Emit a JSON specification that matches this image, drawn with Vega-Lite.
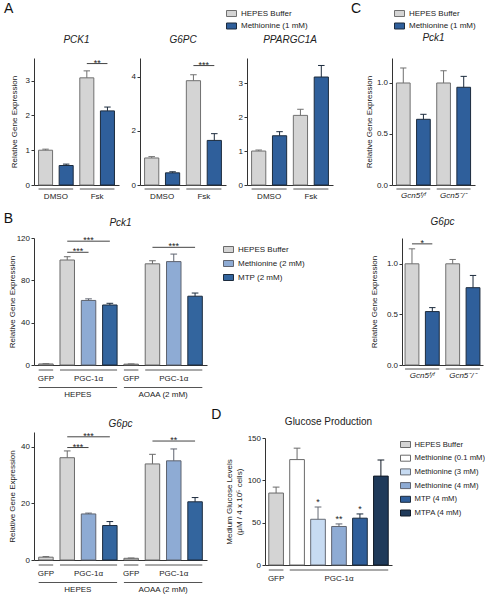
{
 "$schema": "https://vega.github.io/schema/vega-lite/v6.json",
 "padding": {"left": 3, "top": 2, "right": 0, "bottom": 0},
 "config": {
  "font": "Liberation Sans",
  "view": {"stroke": null},
  "axis": {"grid": false, "labelFontSize": 8, "titleFontSize": 8, "titleFontWeight": "normal", "labelColor": "#222", "titleColor": "#222", "domainColor": "#333", "tickColor": "#333", "tickSize": 3, "labelPadding": 1.5, "minExtent": 0},
  "title": {"fontSize": 10, "fontWeight": "normal", "fontStyle": "italic", "offset": 9, "color": "#222"},
  "legend": {"labelFontSize": 8, "labelColor": "#222", "symbolType": "M-1,-0.6H1V0.6H-1Z", "symbolSize": 100, "symbolStrokeWidth": 1, "labelOffset": 4, "padding": 0},
  "text": {"fontSize": 8, "color": "#222"}
 },
 "datasets": {
  "a1": [
   {"bar": "1", "trt": "HEPES Buffer", "value": 1.0, "hi": 1.03},
   {"bar": "2", "trt": "Methionine (1 mM)", "value": 0.56, "hi": 0.6},
   {"bar": "3", "trt": "HEPES Buffer", "value": 3.08, "hi": 3.28},
   {"bar": "4", "trt": "Methionine (1 mM)", "value": 2.13, "hi": 2.24}
  ],
  "a2": [
   {"bar": "1", "trt": "HEPES Buffer", "value": 1.0, "hi": 1.05},
   {"bar": "2", "trt": "Methionine (1 mM)", "value": 0.45, "hi": 0.49},
   {"bar": "3", "trt": "HEPES Buffer", "value": 3.86, "hi": 4.08},
   {"bar": "4", "trt": "Methionine (1 mM)", "value": 1.65, "hi": 1.9}
  ],
  "a3": [
   {"bar": "1", "trt": "HEPES Buffer", "value": 1.0, "hi": 1.03},
   {"bar": "2", "trt": "Methionine (1 mM)", "value": 1.45, "hi": 1.57},
   {"bar": "3", "trt": "HEPES Buffer", "value": 2.05, "hi": 2.23},
   {"bar": "4", "trt": "Methionine (1 mM)", "value": 3.18, "hi": 3.52}
  ],
  "a_groups": [
   {"label": "DMSO", "first": "1", "last": "2", "anchor": "1"},
   {"label": "Fsk", "first": "3", "last": "4", "anchor": "3"}
  ],
  "a1_sig": [{"a": "3", "b": "4", "anchor": "3", "y": 3.49, "label": "**"}],
  "a2_sig": [{"a": "3", "b": "4", "anchor": "3", "y": 4.42, "label": "***"}],
  "b1": [
   {"bar": "1", "trt": "HEPES Buffer", "value": 1.0, "hi": 1.2},
   {"bar": "2", "trt": "HEPES Buffer", "value": 99.2, "hi": 102.3},
   {"bar": "3", "trt": "Methionine (2 mM)", "value": 61.0, "hi": 62.5},
   {"bar": "4", "trt": "MTP (2 mM)", "value": 56.7, "hi": 58.3},
   {"bar": "5", "trt": "HEPES Buffer", "value": 0.8, "hi": 1.0},
   {"bar": "6", "trt": "HEPES Buffer", "value": 95.6, "hi": 98.5},
   {"bar": "7", "trt": "Methionine (2 mM)", "value": 97.7, "hi": 104.8},
   {"bar": "8", "trt": "MTP (2 mM)", "value": 65.0, "hi": 68.0}
  ],
  "b2": [
   {"bar": "1", "trt": "HEPES Buffer", "value": 1.0, "hi": 1.2},
   {"bar": "2", "trt": "HEPES Buffer", "value": 36.2, "hi": 38.6},
   {"bar": "3", "trt": "Methionine (2 mM)", "value": 16.3, "hi": 16.6},
   {"bar": "4", "trt": "MTP (2 mM)", "value": 12.2, "hi": 13.6},
   {"bar": "5", "trt": "HEPES Buffer", "value": 0.6, "hi": 0.7},
   {"bar": "6", "trt": "HEPES Buffer", "value": 34.0, "hi": 37.4},
   {"bar": "7", "trt": "Methionine (2 mM)", "value": 35.1, "hi": 39.3},
   {"bar": "8", "trt": "MTP (2 mM)", "value": 20.6, "hi": 22.1}
  ],
  "b_inner": [
   {"label": "GFP", "first": "1", "last": "1", "anchor": "1"},
   {"label": "PGC-1α", "first": "2", "last": "4", "anchor": "3"},
   {"label": "GFP", "first": "5", "last": "5", "anchor": "5"},
   {"label": "PGC-1α", "first": "6", "last": "8", "anchor": "7"}
  ],
  "b_outer": [
   {"label": "HEPES", "first": "1", "last": "4", "anchor": "2"},
   {"label": "AOAA (2 mM)", "first": "5", "last": "8", "anchor": "6"}
  ],
  "b1_sig": [
   {"a": "2", "b": "3", "anchor": "2", "pos": "between", "y": 106.5, "label": "***"},
   {"a": "2", "b": "4", "anchor": "3", "pos": "center", "y": 117, "label": "***"},
   {"a": "6", "b": "8", "anchor": "7", "pos": "center", "y": 111.2, "label": "***"}
  ],
  "b2_sig": [
   {"a": "2", "b": "3", "anchor": "2", "pos": "between", "y": 39.8, "label": "***"},
   {"a": "2", "b": "4", "anchor": "3", "pos": "center", "y": 43.6, "label": "***"},
   {"a": "6", "b": "8", "anchor": "7", "pos": "center", "y": 42.1, "label": "**"}
  ],
  "c1": [
   {"bar": "1", "trt": "HEPES Buffer", "value": 1.0, "hi": 1.147},
   {"bar": "2", "trt": "Methionine (1 mM)", "value": 0.644, "hi": 0.693},
   {"bar": "3", "trt": "HEPES Buffer", "value": 1.0, "hi": 1.12},
   {"bar": "4", "trt": "Methionine (1 mM)", "value": 0.958, "hi": 1.065}
  ],
  "c2": [
   {"bar": "1", "trt": "HEPES Buffer", "value": 1.0, "hi": 1.148},
   {"bar": "2", "trt": "Methionine (1 mM)", "value": 0.528, "hi": 0.567},
   {"bar": "3", "trt": "HEPES Buffer", "value": 1.0, "hi": 1.043},
   {"bar": "4", "trt": "Methionine (1 mM)", "value": 0.764, "hi": 0.885}
  ],
  "c_groups": [
   {"label": "Gcn5ᶠ/ᶠ", "first": "1", "last": "2", "anchor": "1"},
   {"label": "Gcn5⁻/⁻", "first": "3", "last": "4", "anchor": "3"}
  ],
  "c2_sig": [{"a": "1", "b": "2", "anchor": "1", "y": 1.197, "label": "*"}],
  "d": [
   {"bar": "1", "trt": "HEPES Buffer", "value": 85, "hi": 92, "sig": ""},
   {"bar": "2", "trt": "Methionine (0.1 mM)", "value": 124.5, "hi": 138, "sig": ""},
   {"bar": "3", "trt": "Methionine (3 mM)", "value": 54, "hi": 68.5, "sig": "*"},
   {"bar": "4", "trt": "Methionine (4 mM)", "value": 45.5, "hi": 48.5, "sig": "**"},
   {"bar": "5", "trt": "MTP (4 mM)", "value": 55.3, "hi": 60.3, "sig": "*"},
   {"bar": "6", "trt": "MTPA (4 mM)", "value": 105, "hi": 124, "sig": ""}
  ],
  "d_groups": [
   {"label": "GFP", "first": "1", "last": "1", "anchor": "1"},
   {"label": "PGC-1α", "first": "2", "last": "6", "anchor": "4"}
  ]
 },
 "resolve": {"scale": {"x": "independent", "y": "independent", "fill": "independent", "stroke": "independent"}, "legend": {"fill": "independent", "stroke": "independent"}},
 "spacing": 11,
 "vconcat": [
  {
   "spacing": 17,
   "resolve": {"scale": {"x": "independent", "y": "independent", "fill": "independent", "stroke": "independent"}, "legend": {"fill": "independent", "stroke": "independent"}},
   "hconcat": [
    {
     "title": {"text": "A", "anchor": "start", "fontSize": 14, "fontStyle": "normal", "offset": -8, "dx": -6, "dy": 0, "color": "#111"},
     "spacing": 12,
     "resolve": {"scale": {"x": "independent", "y": "independent", "fill": "shared", "stroke": "shared"}, "legend": {"fill": "shared", "stroke": "shared"}},
     "hconcat": [
      {
       "width": 85, "height": 127,
       "title": {"text": "PCK1", "offset": 13},
       "layer": [
        {"data": {"name": "a1"}, "mark": {"type": "bar", "strokeWidth": 1},
         "encoding": {
          "x": {"field": "bar", "type": "nominal", "title": null, "scale": {"domain": ["1", "2", "3", "4"], "paddingInner": 0.32, "paddingOuter": 0.22}, "axis": {"labels": false, "ticks": false}},
          "y": {"field": "value", "type": "quantitative", "scale": {"domain": [0, 3.65], "nice": false}, "axis": {"values": [0, 1, 2, 3], "title": "Relative Gene Expression", "titlePadding": 7}},
          "fill": {"field": "trt", "type": "nominal", "scale": {"domain": ["HEPES Buffer", "Methionine (1 mM)"], "range": ["#d4d4d4", "#2f5f9b"]}, "legend": {"title": null, "orient": "none", "legendX": 192, "legendY": -50, "rowPadding": 1.5}},
          "stroke": {"field": "trt", "type": "nominal", "scale": {"domain": ["HEPES Buffer", "Methionine (1 mM)"], "range": ["#707070", "#1c2b3d"]}, "legend": {"title": null, "orient": "none", "legendX": 192, "legendY": -50, "rowPadding": 1.5}}
         }},
        {"data": {"name": "a1"}, "mark": {"type": "rule", "strokeWidth": 1}, "encoding": {"x": {"field": "bar", "type": "nominal"}, "y": {"field": "value", "type": "quantitative"}, "y2": {"field": "hi"}, "stroke": {"field": "trt", "type": "nominal", "legend": null}}},
        {"data": {"name": "a1"}, "mark": {"type": "rule", "strokeWidth": 1}, "encoding": {"x": {"field": "bar", "type": "nominal", "bandPosition": 0.27}, "x2": {"field": "bar", "bandPosition": 0.73}, "y": {"field": "hi", "type": "quantitative"}, "stroke": {"field": "trt", "type": "nominal", "legend": null}}},
        {"data": {"name": "a_groups"}, "mark": {"type": "rule", "color": "#555", "yOffset": 4}, "encoding": {"x": {"field": "first", "type": "nominal", "bandPosition": 0}, "x2": {"field": "last", "bandPosition": 1}, "y": {"datum": 0, "type": "quantitative"}}},
        {"data": {"name": "a_groups"}, "mark": {"type": "text", "baseline": "middle", "yOffset": 12}, "encoding": {"x": {"field": "anchor", "type": "nominal", "bandPosition": 1.235}, "y": {"datum": 0, "type": "quantitative"}, "text": {"field": "label"}}},
        {"data": {"name": "a1_sig"}, "mark": {"type": "rule", "color": "#444"}, "encoding": {"x": {"field": "a", "type": "nominal"}, "x2": {"field": "b"}, "y": {"field": "y", "type": "quantitative"}}},
        {"data": {"name": "a1_sig"}, "mark": {"type": "text", "baseline": "alphabetic", "dy": 2, "fontSize": 9}, "encoding": {"x": {"field": "anchor", "type": "nominal", "bandPosition": 1.235}, "y": {"field": "y", "type": "quantitative"}, "text": {"field": "label"}}}
       ]
      },
      {
       "width": 86, "height": 127,
       "title": {"text": "G6PC", "offset": 13},
       "layer": [
        {"data": {"name": "a2"}, "mark": {"type": "bar", "strokeWidth": 1},
         "encoding": {
          "x": {"field": "bar", "type": "nominal", "title": null, "scale": {"domain": ["1", "2", "3", "4"], "paddingInner": 0.32, "paddingOuter": 0.22}, "axis": {"labels": false, "ticks": false}},
          "y": {"field": "value", "type": "quantitative", "scale": {"domain": [0, 4.7], "nice": false}, "axis": {"values": [0, 1, 2, 3, 4], "title": null}},
          "fill": {"field": "trt", "type": "nominal", "scale": {"domain": ["HEPES Buffer", "Methionine (1 mM)"], "range": ["#d4d4d4", "#2f5f9b"]}, "legend": {"title": null, "orient": "none", "legendX": 192, "legendY": -50, "rowPadding": 1.5}},
          "stroke": {"field": "trt", "type": "nominal", "scale": {"domain": ["HEPES Buffer", "Methionine (1 mM)"], "range": ["#707070", "#1c2b3d"]}, "legend": {"title": null, "orient": "none", "legendX": 192, "legendY": -50, "rowPadding": 1.5}}
         }},
        {"data": {"name": "a2"}, "mark": {"type": "rule", "strokeWidth": 1}, "encoding": {"x": {"field": "bar", "type": "nominal"}, "y": {"field": "value", "type": "quantitative"}, "y2": {"field": "hi"}, "stroke": {"field": "trt", "type": "nominal", "legend": null}}},
        {"data": {"name": "a2"}, "mark": {"type": "rule", "strokeWidth": 1}, "encoding": {"x": {"field": "bar", "type": "nominal", "bandPosition": 0.27}, "x2": {"field": "bar", "bandPosition": 0.73}, "y": {"field": "hi", "type": "quantitative"}, "stroke": {"field": "trt", "type": "nominal", "legend": null}}},
        {"data": {"name": "a_groups"}, "mark": {"type": "rule", "color": "#555", "yOffset": 4}, "encoding": {"x": {"field": "first", "type": "nominal", "bandPosition": 0}, "x2": {"field": "last", "bandPosition": 1}, "y": {"datum": 0, "type": "quantitative"}}},
        {"data": {"name": "a_groups"}, "mark": {"type": "text", "baseline": "middle", "yOffset": 12}, "encoding": {"x": {"field": "anchor", "type": "nominal", "bandPosition": 1.235}, "y": {"datum": 0, "type": "quantitative"}, "text": {"field": "label"}}},
        {"data": {"name": "a2_sig"}, "mark": {"type": "rule", "color": "#444"}, "encoding": {"x": {"field": "a", "type": "nominal"}, "x2": {"field": "b"}, "y": {"field": "y", "type": "quantitative"}}},
        {"data": {"name": "a2_sig"}, "mark": {"type": "text", "baseline": "alphabetic", "dy": 2, "fontSize": 9}, "encoding": {"x": {"field": "anchor", "type": "nominal", "bandPosition": 1.235}, "y": {"field": "y", "type": "quantitative"}, "text": {"field": "label"}}}
       ]
      },
      {
       "width": 86, "height": 127,
       "title": {"text": "PPARGC1A", "offset": 13},
       "layer": [
        {"data": {"name": "a3"}, "mark": {"type": "bar", "strokeWidth": 1},
         "encoding": {
          "x": {"field": "bar", "type": "nominal", "title": null, "scale": {"domain": ["1", "2", "3", "4"], "paddingInner": 0.32, "paddingOuter": 0.22}, "axis": {"labels": false, "ticks": false}},
          "y": {"field": "value", "type": "quantitative", "scale": {"domain": [0, 3.74], "nice": false}, "axis": {"values": [0, 1, 2, 3], "title": null}},
          "fill": {"field": "trt", "type": "nominal", "scale": {"domain": ["HEPES Buffer", "Methionine (1 mM)"], "range": ["#d4d4d4", "#2f5f9b"]}, "legend": {"title": null, "orient": "none", "legendX": 192, "legendY": -50, "rowPadding": 1.5}},
          "stroke": {"field": "trt", "type": "nominal", "scale": {"domain": ["HEPES Buffer", "Methionine (1 mM)"], "range": ["#707070", "#1c2b3d"]}, "legend": {"title": null, "orient": "none", "legendX": 192, "legendY": -50, "rowPadding": 1.5}}
         }},
        {"data": {"name": "a3"}, "mark": {"type": "rule", "strokeWidth": 1}, "encoding": {"x": {"field": "bar", "type": "nominal"}, "y": {"field": "value", "type": "quantitative"}, "y2": {"field": "hi"}, "stroke": {"field": "trt", "type": "nominal", "legend": null}}},
        {"data": {"name": "a3"}, "mark": {"type": "rule", "strokeWidth": 1}, "encoding": {"x": {"field": "bar", "type": "nominal", "bandPosition": 0.27}, "x2": {"field": "bar", "bandPosition": 0.73}, "y": {"field": "hi", "type": "quantitative"}, "stroke": {"field": "trt", "type": "nominal", "legend": null}}},
        {"data": {"name": "a_groups"}, "mark": {"type": "rule", "color": "#555", "yOffset": 4}, "encoding": {"x": {"field": "first", "type": "nominal", "bandPosition": 0}, "x2": {"field": "last", "bandPosition": 1}, "y": {"datum": 0, "type": "quantitative"}}},
        {"data": {"name": "a_groups"}, "mark": {"type": "text", "baseline": "middle", "yOffset": 12}, "encoding": {"x": {"field": "anchor", "type": "nominal", "bandPosition": 1.235}, "y": {"datum": 0, "type": "quantitative"}, "text": {"field": "label"}}}
       ]
      }
     ]
    },
    {
     "title": {"text": "C", "anchor": "start", "fontSize": 14, "fontStyle": "normal", "offset": -8, "dx": -15, "dy": 0, "color": "#111"},
     "resolve": {"scale": {"x": "independent", "y": "independent", "fill": "shared", "stroke": "shared"}, "legend": {"fill": "shared", "stroke": "shared"}},
     "vconcat": [
      {
       "width": 83, "height": 127,
       "title": {"text": "Pck1", "offset": 15},
       "layer": [
        {"data": {"name": "c1"}, "mark": {"type": "bar", "strokeWidth": 1},
         "encoding": {
          "x": {"field": "bar", "type": "nominal", "title": null, "scale": {"domain": ["1", "2", "3", "4"], "paddingInner": 0.32, "paddingOuter": 0.22}, "axis": {"labels": false, "ticks": false}},
          "y": {"field": "value", "type": "quantitative", "scale": {"domain": [0, 1.245], "nice": false}, "axis": {"values": [0, 0.5, 1], "format": ".1f", "title": "Relative Gene Expression", "titlePadding": 2.5}},
          "fill": {"field": "trt", "type": "nominal", "scale": {"domain": ["HEPES Buffer", "Methionine (1 mM)"], "range": ["#d4d4d4", "#2f5f9b"]}, "legend": {"title": null, "orient": "none", "legendX": 2, "legendY": -50, "rowPadding": 1.5}},
          "stroke": {"field": "trt", "type": "nominal", "scale": {"domain": ["HEPES Buffer", "Methionine (1 mM)"], "range": ["#707070", "#1c2b3d"]}, "legend": {"title": null, "orient": "none", "legendX": 2, "legendY": -50, "rowPadding": 1.5}}
         }},
        {"data": {"name": "c1"}, "mark": {"type": "rule", "strokeWidth": 1}, "encoding": {"x": {"field": "bar", "type": "nominal"}, "y": {"field": "value", "type": "quantitative"}, "y2": {"field": "hi"}, "stroke": {"field": "trt", "type": "nominal", "legend": null}}},
        {"data": {"name": "c1"}, "mark": {"type": "rule", "strokeWidth": 1}, "encoding": {"x": {"field": "bar", "type": "nominal", "bandPosition": 0.27}, "x2": {"field": "bar", "bandPosition": 0.73}, "y": {"field": "hi", "type": "quantitative"}, "stroke": {"field": "trt", "type": "nominal", "legend": null}}},
        {"data": {"name": "c_groups"}, "mark": {"type": "rule", "color": "#555", "yOffset": 4}, "encoding": {"x": {"field": "first", "type": "nominal", "bandPosition": 0}, "x2": {"field": "last", "bandPosition": 1}, "y": {"datum": 0, "type": "quantitative"}}},
        {"data": {"name": "c_groups"}, "mark": {"type": "text", "baseline": "middle", "yOffset": 11, "fontStyle": "italic"}, "encoding": {"x": {"field": "anchor", "type": "nominal", "bandPosition": 1.235}, "y": {"datum": 0, "type": "quantitative"}, "text": {"field": "label"}}}
       ]
      }
     ]
    }
   ]
  },
  {
   "spacing": 9,
   "resolve": {"scale": {"x": "independent", "y": "independent", "fill": "independent", "stroke": "independent"}, "legend": {"fill": "independent", "stroke": "independent"}},
   "vconcat": [
    {
     "spacing": 65,
     "resolve": {"scale": {"x": "independent", "y": "independent", "fill": "independent", "stroke": "independent"}, "legend": {"fill": "independent", "stroke": "independent"}},
     "hconcat": [
      {
       "title": {"text": "B", "anchor": "start", "fontSize": 14, "fontStyle": "normal", "offset": -7, "dx": -4.5, "dy": 1, "color": "#111"},
       "resolve": {"scale": {"x": "independent", "y": "independent", "fill": "independent", "stroke": "independent"}, "legend": {"fill": "independent", "stroke": "independent"}},
       "vconcat": [
        {
         "width": 173, "height": 127,
         "title": {"text": "Pck1", "offset": 6},
         "layer": [
          {"data": {"name": "b1"}, "mark": {"type": "bar", "strokeWidth": 1},
           "encoding": {
            "x": {"field": "bar", "type": "nominal", "title": null, "scale": {"domain": ["1", "2", "3", "4", "5", "6", "7", "8"], "paddingInner": 0.32, "paddingOuter": 0.22}, "axis": {"labels": false, "ticks": false}},
            "y": {"field": "value", "type": "quantitative", "scale": {"domain": [0, 120], "nice": false}, "axis": {"values": [0, 20, 40, 60, 80, 100, 120], "title": "Relative Gene Expression", "titlePadding": 0}},
            "fill": {"field": "trt", "type": "nominal", "scale": {"domain": ["HEPES Buffer", "Methionine (2 mM)", "MTP (2 mM)"], "range": ["#d4d4d4", "#8eabd4", "#33659e"]}, "legend": {"title": null, "orient": "none", "legendX": 189, "legendY": 6, "rowPadding": 3}},
            "stroke": {"field": "trt", "type": "nominal", "scale": {"domain": ["HEPES Buffer", "Methionine (2 mM)", "MTP (2 mM)"], "range": ["#6a6a6a", "#5f6470", "#1c2b3d"]}, "legend": {"title": null, "orient": "none", "legendX": 189, "legendY": 6, "rowPadding": 3}}
           }},
          {"data": {"name": "b1"}, "mark": {"type": "rule", "strokeWidth": 1}, "encoding": {"x": {"field": "bar", "type": "nominal"}, "y": {"field": "value", "type": "quantitative"}, "y2": {"field": "hi"}, "stroke": {"field": "trt", "type": "nominal", "legend": null}}},
          {"data": {"name": "b1"}, "mark": {"type": "rule", "strokeWidth": 1}, "encoding": {"x": {"field": "bar", "type": "nominal", "bandPosition": 0.27}, "x2": {"field": "bar", "bandPosition": 0.73}, "y": {"field": "hi", "type": "quantitative"}, "stroke": {"field": "trt", "type": "nominal", "legend": null}}},
          {"data": {"name": "b_inner"}, "mark": {"type": "rule", "color": "#555", "yOffset": 5}, "encoding": {"x": {"field": "first", "type": "nominal", "bandPosition": 0}, "x2": {"field": "last", "bandPosition": 1}, "y": {"datum": 0, "type": "quantitative"}}},
          {"data": {"name": "b_inner"}, "mark": {"type": "text", "baseline": "middle", "yOffset": 13.5}, "encoding": {"x": {"field": "anchor", "type": "nominal", "bandPosition": 0.5}, "y": {"datum": 0, "type": "quantitative"}, "text": {"field": "label"}}},
          {"data": {"name": "b_outer"}, "mark": {"type": "rule", "color": "#555", "yOffset": 22.5}, "encoding": {"x": {"field": "first", "type": "nominal", "bandPosition": 0}, "x2": {"field": "last", "bandPosition": 1}, "y": {"datum": 0, "type": "quantitative"}}},
          {"data": {"name": "b_outer"}, "mark": {"type": "text", "baseline": "middle", "yOffset": 30}, "encoding": {"x": {"field": "anchor", "type": "nominal", "bandPosition": 1.235}, "y": {"datum": 0, "type": "quantitative"}, "text": {"field": "label"}}},
          {"data": {"name": "b1_sig"}, "mark": {"type": "rule", "color": "#444"}, "encoding": {"x": {"field": "a", "type": "nominal"}, "x2": {"field": "b"}, "y": {"field": "y", "type": "quantitative"}}},
          {"data": {"name": "b1_sig"}, "transform": [{"filter": "datum.pos == 'between'"}], "mark": {"type": "text", "baseline": "alphabetic", "dy": 2, "fontSize": 9}, "encoding": {"x": {"field": "anchor", "type": "nominal", "bandPosition": 1.235}, "y": {"field": "y", "type": "quantitative"}, "text": {"field": "label"}}},
          {"data": {"name": "b1_sig"}, "transform": [{"filter": "datum.pos == 'center'"}], "mark": {"type": "text", "baseline": "alphabetic", "dy": 2, "fontSize": 9}, "encoding": {"x": {"field": "anchor", "type": "nominal", "bandPosition": 0.5}, "y": {"field": "y", "type": "quantitative"}, "text": {"field": "label"}}}
         ]
        }
       ]
      },
      {
       "width": 81, "height": 127,
       "title": {"text": "G6pc", "offset": 11},
       "layer": [
        {"data": {"name": "c2"}, "mark": {"type": "bar", "strokeWidth": 1},
         "encoding": {
          "x": {"field": "bar", "type": "nominal", "title": null, "scale": {"domain": ["1", "2", "3", "4"], "paddingInner": 0.32, "paddingOuter": 0.15}, "axis": {"labels": false, "ticks": false}},
          "y": {"field": "value", "type": "quantitative", "scale": {"domain": [0, 1.255], "nice": false}, "axis": {"values": [0, 0.5, 1], "format": ".1f", "title": "Relative Gene Expression", "titlePadding": 8}},
          "fill": {"field": "trt", "type": "nominal", "scale": {"domain": ["HEPES Buffer", "Methionine (1 mM)"], "range": ["#d4d4d4", "#2f5f9b"]}, "legend": null},
          "stroke": {"field": "trt", "type": "nominal", "scale": {"domain": ["HEPES Buffer", "Methionine (1 mM)"], "range": ["#707070", "#1c2b3d"]}, "legend": null}
         }},
        {"data": {"name": "c2"}, "mark": {"type": "rule", "strokeWidth": 1}, "encoding": {"x": {"field": "bar", "type": "nominal"}, "y": {"field": "value", "type": "quantitative"}, "y2": {"field": "hi"}, "stroke": {"field": "trt", "type": "nominal", "legend": null}}},
        {"data": {"name": "c2"}, "mark": {"type": "rule", "strokeWidth": 1}, "encoding": {"x": {"field": "bar", "type": "nominal", "bandPosition": 0.27}, "x2": {"field": "bar", "bandPosition": 0.73}, "y": {"field": "hi", "type": "quantitative"}, "stroke": {"field": "trt", "type": "nominal", "legend": null}}},
        {"data": {"name": "c_groups"}, "mark": {"type": "rule", "color": "#555", "yOffset": 4}, "encoding": {"x": {"field": "first", "type": "nominal", "bandPosition": 0}, "x2": {"field": "last", "bandPosition": 1}, "y": {"datum": 0, "type": "quantitative"}}},
        {"data": {"name": "c_groups"}, "mark": {"type": "text", "baseline": "middle", "yOffset": 11, "fontStyle": "italic"}, "encoding": {"x": {"field": "anchor", "type": "nominal", "bandPosition": 1.235}, "y": {"datum": 0, "type": "quantitative"}, "text": {"field": "label"}}},
        {"data": {"name": "c2_sig"}, "mark": {"type": "rule", "color": "#444"}, "encoding": {"x": {"field": "a", "type": "nominal"}, "x2": {"field": "b"}, "y": {"field": "y", "type": "quantitative"}}},
        {"data": {"name": "c2_sig"}, "mark": {"type": "text", "baseline": "alphabetic", "dy": 2, "fontSize": 9}, "encoding": {"x": {"field": "anchor", "type": "nominal", "bandPosition": 1.235}, "y": {"field": "y", "type": "quantitative"}, "text": {"field": "label"}}}
       ]
      }
     ]
    },
    {
     "spacing": 4,
     "resolve": {"scale": {"x": "independent", "y": "independent", "fill": "independent", "stroke": "independent"}, "legend": {"fill": "independent", "stroke": "independent"}},
     "hconcat": [
      {
       "width": 173, "height": 128,
       "title": {"text": "G6pc", "offset": 3},
       "layer": [
        {"data": {"name": "b2"}, "mark": {"type": "bar", "strokeWidth": 1},
         "encoding": {
          "x": {"field": "bar", "type": "nominal", "title": null, "scale": {"domain": ["1", "2", "3", "4", "5", "6", "7", "8"], "paddingInner": 0.32, "paddingOuter": 0.22}, "axis": {"labels": false, "ticks": false}},
          "y": {"field": "value", "type": "quantitative", "scale": {"domain": [0, 45.3], "nice": false}, "axis": {"values": [0, 10, 20, 30, 40], "title": "Relative Gene Expression", "titlePadding": 4}},
          "fill": {"field": "trt", "type": "nominal", "scale": {"domain": ["HEPES Buffer", "Methionine (2 mM)", "MTP (2 mM)"], "range": ["#d4d4d4", "#8eabd4", "#33659e"]}, "legend": null},
          "stroke": {"field": "trt", "type": "nominal", "scale": {"domain": ["HEPES Buffer", "Methionine (2 mM)", "MTP (2 mM)"], "range": ["#6a6a6a", "#5f6470", "#1c2b3d"]}, "legend": null}
         }},
        {"data": {"name": "b2"}, "mark": {"type": "rule", "strokeWidth": 1}, "encoding": {"x": {"field": "bar", "type": "nominal"}, "y": {"field": "value", "type": "quantitative"}, "y2": {"field": "hi"}, "stroke": {"field": "trt", "type": "nominal", "legend": null}}},
        {"data": {"name": "b2"}, "mark": {"type": "rule", "strokeWidth": 1}, "encoding": {"x": {"field": "bar", "type": "nominal", "bandPosition": 0.27}, "x2": {"field": "bar", "bandPosition": 0.73}, "y": {"field": "hi", "type": "quantitative"}, "stroke": {"field": "trt", "type": "nominal", "legend": null}}},
        {"data": {"name": "b_inner"}, "mark": {"type": "rule", "color": "#555", "yOffset": 5}, "encoding": {"x": {"field": "first", "type": "nominal", "bandPosition": 0}, "x2": {"field": "last", "bandPosition": 1}, "y": {"datum": 0, "type": "quantitative"}}},
        {"data": {"name": "b_inner"}, "mark": {"type": "text", "baseline": "middle", "yOffset": 13.5}, "encoding": {"x": {"field": "anchor", "type": "nominal", "bandPosition": 0.5}, "y": {"datum": 0, "type": "quantitative"}, "text": {"field": "label"}}},
        {"data": {"name": "b_outer"}, "mark": {"type": "rule", "color": "#555", "yOffset": 22.5}, "encoding": {"x": {"field": "first", "type": "nominal", "bandPosition": 0}, "x2": {"field": "last", "bandPosition": 1}, "y": {"datum": 0, "type": "quantitative"}}},
        {"data": {"name": "b_outer"}, "mark": {"type": "text", "baseline": "middle", "yOffset": 30}, "encoding": {"x": {"field": "anchor", "type": "nominal", "bandPosition": 1.235}, "y": {"datum": 0, "type": "quantitative"}, "text": {"field": "label"}}},
        {"data": {"name": "b2_sig"}, "mark": {"type": "rule", "color": "#444"}, "encoding": {"x": {"field": "a", "type": "nominal"}, "x2": {"field": "b"}, "y": {"field": "y", "type": "quantitative"}}},
        {"data": {"name": "b2_sig"}, "transform": [{"filter": "datum.pos == 'between'"}], "mark": {"type": "text", "baseline": "alphabetic", "dy": 2, "fontSize": 9}, "encoding": {"x": {"field": "anchor", "type": "nominal", "bandPosition": 1.235}, "y": {"field": "y", "type": "quantitative"}, "text": {"field": "label"}}},
        {"data": {"name": "b2_sig"}, "transform": [{"filter": "datum.pos == 'center'"}], "mark": {"type": "text", "baseline": "alphabetic", "dy": 2, "fontSize": 9}, "encoding": {"x": {"field": "anchor", "type": "nominal", "bandPosition": 0.5}, "y": {"field": "y", "type": "quantitative"}, "text": {"field": "label"}}}
       ]
      },
      {
       "title": {"text": "D", "anchor": "start", "fontSize": 14, "fontStyle": "normal", "offset": 0, "dx": -14, "dy": 5, "color": "#111"},
       "resolve": {"scale": {"x": "independent", "y": "independent", "fill": "independent", "stroke": "independent"}, "legend": {"fill": "independent", "stroke": "independent"}},
       "vconcat": [
        {
         "width": 127, "height": 133,
         "title": {"text": "Glucose Production", "fontStyle": "normal", "offset": 5},
         "layer": [
          {"data": {"name": "d"}, "mark": {"type": "bar", "strokeWidth": 1},
           "encoding": {
            "x": {"field": "bar", "type": "nominal", "title": null, "scale": {"domain": ["1", "2", "3", "4", "5", "6"], "paddingInner": 0.3, "paddingOuter": 0.18}, "axis": {"labels": false, "ticks": false}},
            "y": {"field": "value", "type": "quantitative", "scale": {"domain": [0, 150], "range": [133, 6], "nice": false}, "axis": {"values": [0, 50, 100, 150], "title": ["Medium Glucose Levels", "(μM / 4 x 10⁵ cells)"], "titlePadding": 4}},
            "fill": {"field": "trt", "type": "nominal", "scale": {"domain": ["HEPES Buffer", "Methionine (0.1 mM)", "Methionine (3 mM)", "Methionine (4 mM)", "MTP (4 mM)", "MTPA (4 mM)"], "range": ["#d4d4d4", "#ffffff", "#c7dbf2", "#8eabd4", "#2f5e9a", "#1f3a5a"]}, "legend": {"title": null, "orient": "none", "legendX": 135, "legendY": 7, "rowPadding": 2.7, "labelFontSize": 7.7, "labelOffset": 3.5}},
            "stroke": {"field": "trt", "type": "nominal", "scale": {"domain": ["HEPES Buffer", "Methionine (0.1 mM)", "Methionine (3 mM)", "Methionine (4 mM)", "MTP (4 mM)", "MTPA (4 mM)"], "range": ["#6a6a6a", "#6a6a6a", "#666b74", "#5f6470", "#1c2b3d", "#111a26"]}, "legend": {"title": null, "orient": "none", "legendX": 135, "legendY": 7, "rowPadding": 2.7, "labelFontSize": 7.7, "labelOffset": 3.5}}
           }},
          {"data": {"name": "d"}, "mark": {"type": "rule", "strokeWidth": 1}, "encoding": {"x": {"field": "bar", "type": "nominal"}, "y": {"field": "value", "type": "quantitative"}, "y2": {"field": "hi"}, "stroke": {"field": "trt", "type": "nominal", "legend": null}}},
          {"data": {"name": "d"}, "mark": {"type": "rule", "strokeWidth": 1}, "encoding": {"x": {"field": "bar", "type": "nominal", "bandPosition": 0.27}, "x2": {"field": "bar", "bandPosition": 0.73}, "y": {"field": "hi", "type": "quantitative"}, "stroke": {"field": "trt", "type": "nominal", "legend": null}}},
          {"data": {"name": "d"}, "mark": {"type": "text", "baseline": "alphabetic", "dy": -2, "fontSize": 9}, "encoding": {"x": {"field": "bar", "type": "nominal"}, "y": {"field": "hi", "type": "quantitative"}, "text": {"field": "sig"}}},
          {"data": {"name": "d_groups"}, "mark": {"type": "rule", "color": "#555", "yOffset": 5}, "encoding": {"x": {"field": "first", "type": "nominal", "bandPosition": 0}, "x2": {"field": "last", "bandPosition": 1}, "y": {"datum": 0, "type": "quantitative"}}},
          {"data": {"name": "d_groups"}, "mark": {"type": "text", "baseline": "middle", "yOffset": 13.5}, "encoding": {"x": {"field": "anchor", "type": "nominal", "bandPosition": 0.5}, "y": {"datum": 0, "type": "quantitative"}, "text": {"field": "label"}}}
         ]
        }
       ]
      }
     ]
    }
   ]
  }
 ]
}
